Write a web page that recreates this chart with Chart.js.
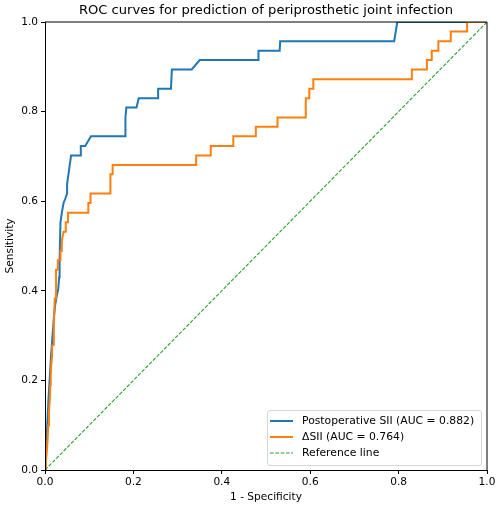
<!DOCTYPE html>
<html>
<head>
<meta charset="utf-8">
<script src="https://cdn.jsdelivr.net/npm/chart.js@4.4.0/dist/chart.umd.min.js"></script>
<style>
  html, body { margin: 0; padding: 0; background: #fff; }
  #wrap { position: relative; width: 500px; height: 510px; }
  canvas { display: block; }
  #legend {
    position: absolute; left: 267px; top: 410px; width: 213px; height: 54px;
    border: 1px solid #d6d6d6; border-radius: 3px; background: rgba(255,255,255,0.8);
    font-family: "DejaVu Sans", sans-serif; font-size: 10.8px; color: #000;
  }
  .row { position: absolute; left: 0; height: 16px; line-height: 16px; white-space: nowrap; }
  .row svg { position: absolute; left: 2px; top: 0; }
  .row span { position: absolute; left: 34px; top: 0; }
</style>
</head>
<body>
<div id="wrap">
  <canvas id="c" width="500" height="510"></canvas>
  <div id="legend"></div>
</div>
<script>
const chartTitle = "ROC curves for prediction of periprosthetic joint infection";
const xTitle = "1 - Specificity";
const yTitle = "Sensitivity";
const tickValues = [0, 0.2, 0.4, 0.6, 0.8, 1.0];

const seriesNames = ["Postoperative SII (AUC = 0.882)", "\u0394SII (AUC = 0.764)", "Reference line"];
const seriesColors = ["#1f77b4", "#ff7f0e", "#2ca02c"];

const sllFpr = [0, 0.002, 0.005, 0.008, 0.011, 0.014, 0.017, 0.020, 0.023, 0.027,
  0.030, 0.032, 0.033, 0.035, 0.038, 0.042, 0.046, 0.050, 0.050, 0.053,
  0.056, 0.059, 0.081, 0.081, 0.091, 0.104, 0.182, 0.182, 0.184, 0.207,
  0.212, 0.256, 0.256, 0.285, 0.287, 0.332, 0.350, 0.482, 0.483, 0.531,
  0.532, 0.790, 0.797, 1.0];
const sllTpr = [0, 0.04, 0.10, 0.16, 0.21, 0.26, 0.30, 0.34, 0.368, 0.391,
  0.404, 0.43, 0.47, 0.553, 0.574, 0.596, 0.606, 0.617, 0.638, 0.660,
  0.681, 0.702, 0.702, 0.723, 0.723, 0.745, 0.745, 0.787, 0.809, 0.809,
  0.830, 0.830, 0.851, 0.851, 0.894, 0.894, 0.915, 0.915, 0.936, 0.936,
  0.957, 0.957, 1.0, 1.0];

const deltaFpr = [0, 0.002, 0.004, 0.006, 0.0075, 0.009, 0.011, 0.012, 0.013, 0.014,
  0.016, 0.016, 0.020, 0.020, 0.022, 0.025, 0.025, 0.029, 0.029, 0.034,
  0.035, 0.038, 0.038, 0.042, 0.046, 0.047, 0.050, 0.052, 0.098, 0.098,
  0.103, 0.103, 0.148, 0.148, 0.153, 0.153, 0.342, 0.342, 0.375, 0.375,
  0.426, 0.426, 0.477, 0.477, 0.526, 0.526, 0.590, 0.590, 0.598, 0.598,
  0.607, 0.607, 0.830, 0.830, 0.864, 0.864, 0.875, 0.875, 0.890, 0.890,
  0.918, 0.918, 0.955, 0.955, 1.0];
const deltaTpr = [0, 0.02, 0.04, 0.07, 0.10, 0.13, 0.16, 0.19, 0.21, 0.234,
  0.255, 0.277, 0.279, 0.32, 0.383, 0.383, 0.447, 0.447, 0.468, 0.468,
  0.489, 0.489, 0.511, 0.532, 0.532, 0.553, 0.553, 0.574, 0.574, 0.596,
  0.596, 0.617, 0.617, 0.660, 0.660, 0.681, 0.681, 0.702, 0.702, 0.723,
  0.723, 0.745, 0.745, 0.766, 0.766, 0.787, 0.787, 0.830, 0.830, 0.851,
  0.851, 0.872, 0.872, 0.894, 0.894, 0.915, 0.915, 0.936, 0.936, 0.957,
  0.957, 0.979, 0.979, 1.0, 1.0];

const refX = [0, 1];
const refY = [0, 1];

function pts(xs, ys) { return xs.map((x, i) => ({ x: x, y: ys[i] })); }

const FONT = '"DejaVu Sans", sans-serif';

const spines = {
  id: 'spines',
  afterDatasetsDraw(chart) {
    const a = chart.chartArea, ctx = chart.ctx;
    ctx.save();
    ctx.lineWidth = 1;
    ctx.strokeStyle = '#000';
    ctx.beginPath();
    ctx.moveTo(a.left + 0.5, a.top);
    ctx.lineTo(a.left + 0.5, a.bottom + 0.5);
    ctx.lineTo(a.right, a.bottom + 0.5);
    ctx.lineTo(a.right, a.top);
    ctx.lineTo(a.left, a.top);
    ctx.stroke();
    ctx.restore();
  }
};

const centerTitle = {
  id: 'centerTitle',
  afterLayout(chart) {
    const t = chart.titleBlock;
    if (t) { t.left = chart.chartArea.left; t.right = chart.chartArea.right; t.width = t.right - t.left; }
  }
};

const tickFont = { family: FONT, size: 10.6 };

new Chart(document.getElementById('c'), {
  type: 'line',
  data: {
    datasets: [
      { label: seriesNames[0], data: pts(sllFpr, sllTpr), borderColor: seriesColors[0], borderWidth: 2, order: 3 },
      { label: seriesNames[1], data: pts(deltaFpr, deltaTpr), borderColor: seriesColors[1], borderWidth: 2, order: 2 },
      { label: seriesNames[2], data: pts(refX, refY), borderColor: seriesColors[2], borderWidth: 1.1, borderDash: [3.7, 1.6], order: 1 }
    ]
  },
  options: {
    responsive: false,
    animation: false,
    devicePixelRatio: 1,
    elements: { point: { radius: 0 }, line: { tension: 0, fill: false } },
    layout: { padding: { left: 0, right: 13, top: 0, bottom: 0 } },
    plugins: {
      legend: { display: false },
      tooltip: { enabled: false },
      title: {
        display: true, text: chartTitle, color: '#000',
        font: { family: FONT, size: 13.1, weight: 'normal' },
        padding: { top: 3.2, bottom: 3.08 }
      }
    },
    scales: {
      x: {
        type: 'linear', min: 0, max: 1,
        afterBuildTicks(s) { s.ticks = tickValues.map(v => ({ value: v })); },
        afterFit(s) { s.height = 40; s.paddingLeft = 0; s.paddingRight = 0; },
        ticks: { font: tickFont, color: '#000', padding: 1.5, maxRotation: 0, autoSkip: false,
          callback: v => Number(v).toFixed(1) },
        grid: { drawOnChartArea: false, drawTicks: true, tickLength: 4, color: '#000', lineWidth: 1 },
        border: { display: false },
        title: { display: true, text: xTitle, color: '#000', font: { family: FONT, size: 10.6 }, padding: { top: 0, bottom: 6 } }
      },
      y: {
        type: 'linear', min: 0, max: 1,
        afterBuildTicks(s) { s.ticks = tickValues.map(v => ({ value: v })); },
        afterFit(s) { s.width = 45; s.paddingTop = 0; s.paddingBottom = 0; },
        ticks: { font: tickFont, color: '#000', padding: 3, autoSkip: false,
          callback: v => Number(v).toFixed(1) },
        grid: { drawOnChartArea: false, drawTicks: true, tickLength: 4, color: '#000', lineWidth: 1 },
        border: { display: false },
        title: { display: true, text: yTitle, color: '#000', font: { family: FONT, size: 10.6 }, padding: { top: 4, bottom: 0 } }
      }
    }
  },
  plugins: [spines, centerTitle]
});

// legend (HTML)
const legend = document.getElementById('legend');
const rowTops = [2, 18, 34];
seriesNames.forEach((name, i) => {
  const row = document.createElement('div');
  row.className = 'row';
  row.style.top = rowTops[i] + 'px';
  const dash = i === 2 ? ' stroke-dasharray="3.7 1.6"' : '';
  const w = i === 2 ? 1.1 : 2;
  row.innerHTML = '<svg width="24" height="16"><line x1="0" y1="8" x2="23" y2="8" stroke="' + seriesColors[i] +
    '" stroke-width="' + w + '"' + dash + '/></svg><span></span>';
  row.querySelector('span').textContent = name;
  legend.appendChild(row);
});
</script>
</body>
</html>
